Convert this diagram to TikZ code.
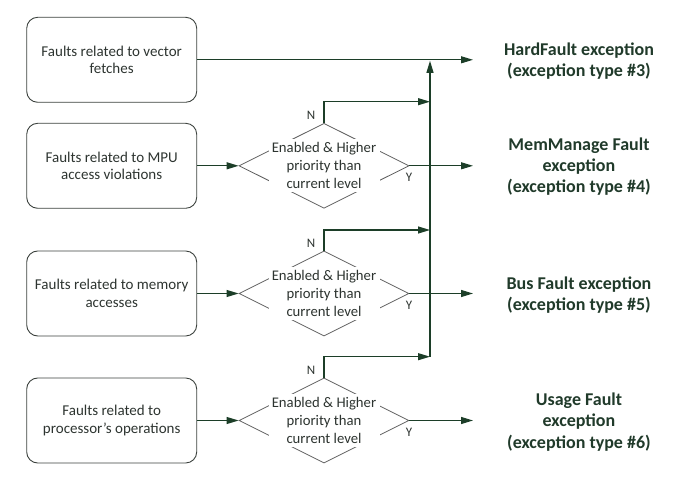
\documentclass[tikz,border=0pt]{standalone}
\usepackage{fontspec}
\setmainfont{Carlito}
\usetikzlibrary{arrows.meta,shapes.geometric,calc}
\definecolor{linecol}{RGB}{28,62,40}
\definecolor{boxcol}{RGB}{60,66,62}
\definecolor{diacol}{RGB}{95,95,95}
\definecolor{txtcol}{RGB}{45,52,48}
\definecolor{labcol}{RGB}{32,58,42}
\tikzset{
  faultbox/.style={draw=boxcol, line width=0.9pt, rounded corners=11pt, minimum width=170pt, minimum height=85pt, align=center, text=txtcol, font=\fontsize{15}{17.7}\selectfont, inner sep=0pt},
  decision/.style={draw=diacol, line width=0.8pt, shape=diamond, minimum width=170pt, minimum height=85pt, inner sep=0pt},
  dectext/.style={fill=white, minimum width=111pt, minimum height=53pt, inner sep=0pt, align=center, text=txtcol, font=\fontsize{14.7}{18}\selectfont},
  exclabel/.style={align=center, text=labcol, font=\fontsize{18}{21.3}\selectfont\bfseries, inner sep=0pt},
  yn/.style={text=txtcol, font=\fontsize{13}{15}\selectfont, inner sep=0pt},
  arr/.style={draw=linecol, line width=1.1pt, -{Triangle[length=12pt,width=7pt]}},
  plainline/.style={draw=linecol, line width=1.1pt}
}
\begin{document}
\begin{tikzpicture}[x=1pt,y=-1pt]
\useasboundingbox (0,0) rectangle (683,478);
% boxes
\node[faultbox] (b1) at (111.7,59.8) {Faults related to vector\\fetches};
\node[faultbox] (b2) at (111.7,165.8) {Faults related to MPU\\access violations};
\node[faultbox] (b3) at (111.7,293.5) {Faults related to memory\\accesses};
\node[faultbox] (b4) at (111.7,420.5) {Faults related to\\processor's operations};
% decisions
\node[decision] (d2) at (324,165.8) {};
\node[decision] (d3) at (324,293.5) {};
\node[decision] (d4) at (324,420.5) {};
\node[dectext] (t2) at (d2) {Enabled \& Higher\\priority than\\current level};
\node[dectext] (t3) at (d3) {Enabled \& Higher\\priority than\\current level};
\node[dectext] (t4) at (d4) {Enabled \& Higher\\priority than\\current level};
% labels
\node[exclabel] (l1) at (579,61) {HardFault exception\\(exception type \#3)};
\node[exclabel] (l2) at (579,166.5) {MemManage Fault\\exception\\(exception type \#4)};
\node[exclabel] (l3) at (579,295) {Bus Fault exception\\(exception type \#5)};
\node[exclabel] (l4) at (579,422) {Usage Fault\\exception\\(exception type \#6)};
% N / Y
\node[yn] (n2) at (311,115.5) {N};
\node[yn] (n3) at (311,243) {N};
\node[yn] (n4) at (311,370) {N};
\node[yn] (y2) at (409,177.5) {Y};
\node[yn] (y3) at (409,305) {Y};
\node[yn] (y4) at (409,432) {Y};
% helper coordinates
\coordinate (tx) at (473,0);
\coordinate (c2) at (430,101.7);
\coordinate (c3) at (430,230);
\coordinate (c4) at (430,356.7);
\coordinate (top) at (430,60.8);
% connectors
\draw[arr] (b1.east) -- (b1.east -| tx);
\draw[arr] (b2.east) -- (d2.west);
\draw[arr] (b3.east) -- (d3.west);
\draw[arr] (b4.east) -- (d4.west);
\draw[arr] (d2.east) -- (d2.east -| tx);
\draw[arr] (d3.east) -- (d3.east -| tx);
\draw[arr] (d4.east) -- (d4.east -| tx);
\draw[arr] (d2.north) |- (c2);
\draw[arr] (d3.north) |- (c3);
\draw[arr] (d4.north) |- (c4);
\draw[arr] (c4) -- (top);
\end{tikzpicture}
\end{document}
